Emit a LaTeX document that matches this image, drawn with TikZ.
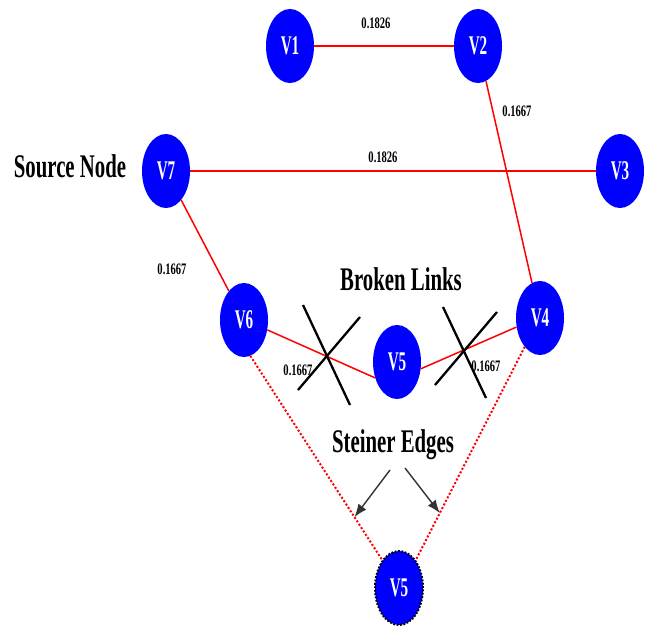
\documentclass[tikz,border=0pt]{standalone}
\usepackage{fontspec}
\setmainfont{Liberation Serif}
\newfontfamily\captionfont[FakeStretch=0.63]{Liberation Serif}
\newfontfamily\vertexfont[FakeStretch=0.56]{Liberation Serif}
\newfontfamily\weightfont[FakeStretch=0.66]{Liberation Serif}
\usetikzlibrary{arrows.meta}
\usetikzlibrary{shapes.geometric}
\usetikzlibrary{calc}

\begin{document}
\begin{tikzpicture}[x=1pt, y=-1pt,
                    vertex/.style={ellipse, fill=blue, text=white,
                        minimum width=48pt, minimum height=74pt, inner sep=0pt,
                        font=\vertexfont\bfseries\fontsize{27}{27}\selectfont},
                    spare/.style={vertex, draw=black, line width=2pt,
                        dash pattern=on 1.8pt off 1.6pt},
                    weight/.style={inner sep=0pt,
                        font=\weightfont\bfseries\fontsize{16}{16}\selectfont},
                    caption/.style={inner sep=0pt, anchor=base,
                        font=\captionfont\bfseries\fontsize{33}{33}\selectfont},
                    link/.style={draw=red, line width=1.5pt},
                    steiner/.style={draw=red, line width=2pt,
                        dash pattern=on 2pt off 2pt},
                    cutline/.style={draw=black, line width=2.3pt},
                    pointer/.style={draw=black!80, line width=1.4pt,
                        -{Latex[length=13pt,width=10pt]}}]

    \useasboundingbox (0,0) rectangle (647,626);

    \node[vertex] (v1) at (290,46)  {V1};
    \node[vertex] (v2) at (478,46)  {V2};
    \node[vertex] (v7) at (166,171) {V7};
    \node[vertex] (v3) at (620,171) {V3};
    \node[vertex] (v6) at (244,320) {V6};
    \node[vertex] (v5) at (397,362) {V5};
    \node[vertex] (v4) at (540,318) {V4};
    \node[spare]  (v5s) at (399,588) {V5};

    \node[caption] (src)    at (70,177)  {Source Node};
    \node[caption] (broken) at (401,290) {Broken Links};
    \node[caption] (stein)  at (393,452) {Steiner Edges};

    % tree links with their costs
    \draw[link] (v1) -- (v2);
    \draw[link] (v2) -- (v4);
    \draw[link] (v7) -- (v3);
    \draw[link] (v7) -- (v6);
    \draw[link] (v6.-23) -- (v5.-144);
    \draw[link] (v5.-16) -- (v4.-159);

    \node[weight] (w12) at (376,23)  {0.1826};
    \node[weight] (w24) at (517,111) {0.1667};
    \node[weight] (w73) at (383,157) {0.1826};
    \node[weight] (w76) at (172,269) {0.1667};
    \node[weight] (w65) at (298,370) {0.1667};
    \node[weight] (w54) at (486,366) {0.1667};

    % the two links through V5 are cut
    \draw[cutline] (303,305) -- (350,405);
    \draw[cutline] (360,317) -- (298,390);
    \draw[cutline] (443,307) -- (486,398);
    \draw[cutline] (497,312) -- (435,385);

    % replacement edges to the spare V5
    \draw[steiner] (v6.-80) -- (v5s.121);
    \draw[steiner] (v4.-118) -- (v5s.59);

    \coordinate (s1) at (390,470);
    \coordinate (s2) at (405,468);
    \coordinate (t1) at ($(v6.-80)!0.79!(v5s.121)$);
    \coordinate (t2) at ($(v4.-118)!0.78!(v5s.59)$);
    \draw[pointer] (s1) -- (t1);
    \draw[pointer] (s2) -- (t2);
\end{tikzpicture}
\end{document}
